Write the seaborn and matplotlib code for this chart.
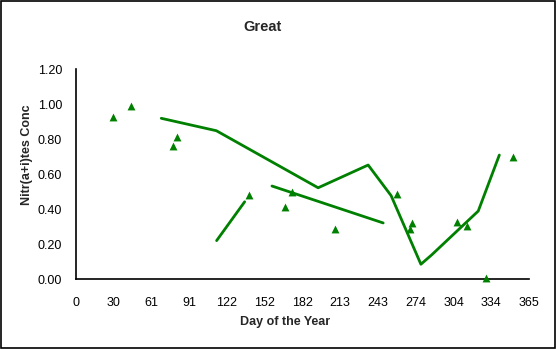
import matplotlib
matplotlib.use("Agg")
import matplotlib.pyplot as plt
import seaborn as sns
import pandas as pd
from matplotlib.patches import Rectangle

# Observed points (triangles)
obs_day = [29.7, 44.2, 78.1, 81.3, 139.4, 168.4, 174.1, 208.8, 258.8, 269.3, 270.9, 306.7, 315.2, 330.6, 352.3]
obs_val = [0.93, 0.99, 0.76, 0.815, 0.48, 0.415, 0.50, 0.29, 0.49, 0.29, 0.32, 0.325, 0.305, 0.01, 0.70]

# Line series
lineA_day = [68.7, 113.1, 195.1, 235.4, 253.9, 277.9, 286.5, 324.1, 341.1]
lineA_val = [0.92, 0.849, 0.523, 0.653, 0.478, 0.086, 0.139, 0.39, 0.71]
lineB_day = [113.3, 135.9]
lineB_val = [0.221, 0.443]
lineC_day = [157.9, 247.5]
lineC_val = [0.533, 0.322]

xtick_labels = ["0", "30", "61", "91", "122", "152", "182", "213", "243", "274", "304", "334", "365"]
ytick_vals = [0.0, 0.2, 0.4, 0.6, 0.8, 1.0, 1.2]

sns.set_style("white")
plt.rcParams['font.family'] = ['Liberation Sans', 'DejaVu Sans']

GREEN = "#008000"
fig = plt.figure(figsize=(5.56, 3.49), dpi=100)
ax = fig.add_axes([76/556, 1-279.3/349, (529-76)/556, (279.3-69.3)/349])

for d, v in [(lineA_day, lineA_val), (lineB_day, lineB_val), (lineC_day, lineC_val)]:
    df = pd.DataFrame({"day": d, "val": v})
    sns.lineplot(data=df, x="day", y="val", sort=False, color=GREEN, linewidth=2.0, ax=ax, estimator=None)

obs = pd.DataFrame({"day": obs_day, "val": obs_val})
sns.scatterplot(data=obs, x="day", y="val", marker="^", color=GREEN, s=32, linewidth=0, ax=ax, zorder=5, clip_on=False)

ax.set_xlim(0, 365)
ax.set_ylim(0, 1.2)
ax.set_xticks([i * 365 / 12 for i in range(13)])
ax.set_xticklabels(xtick_labels, fontsize=9)
ax.set_yticks(ytick_vals)
ax.set_yticklabels([f"{v:.2f}" for v in ytick_vals], fontsize=9)
ax.set_xlabel("")
ax.set_ylabel("")
for s in ["top", "right"]:
    ax.spines[s].set_visible(False)
for s in ["left", "bottom"]:
    ax.spines[s].set_color("black")
    ax.spines[s].set_linewidth(1.2)
ax.tick_params(axis="both", direction="out", length=4, width=1, color="black", pad=6, labelcolor="black")
ax.tick_params(axis="x", pad=9)
ax.set_facecolor("white")

fig.text(262/556, 1-27/349, "Great", ha="center", va="center", fontsize=10.5, fontweight="bold")
fig.text(285/556, 1-322/349, "Day of the Year", ha="center", va="center", fontsize=9, fontweight="bold")
fig.text(27/556, 1-155/349, "Nitr(a+i)tes Conc", ha="center", va="center", fontsize=9, fontweight="bold", rotation=90)

fig.patches.append(Rectangle((0.001, 0.002), 0.997, 0.995, transform=fig.transFigure, fill=False, edgecolor="black", linewidth=1.2))

fig.savefig("out.png", dpi=100, facecolor="white")
